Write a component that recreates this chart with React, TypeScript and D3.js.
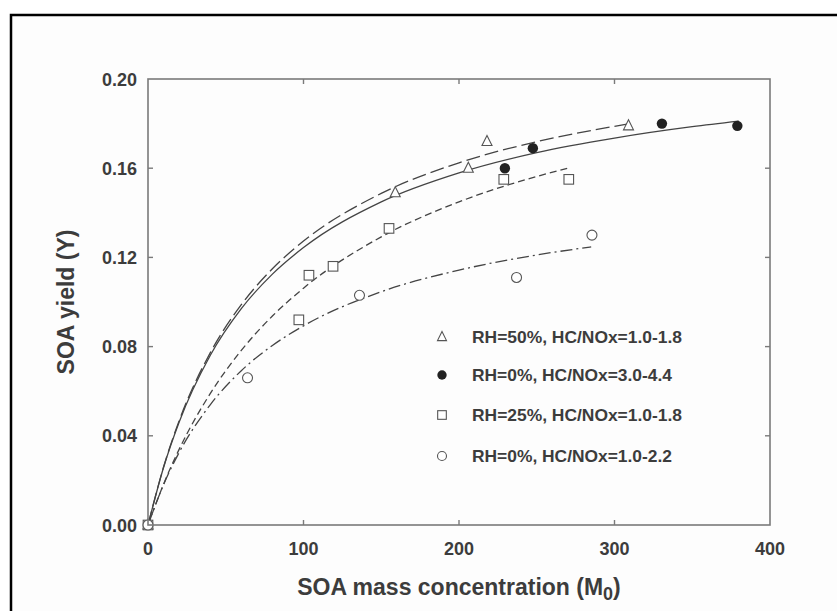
import * as d3 from "d3";
import React from "react";

// chart dimensions
const width = 837;
const height = 611;
const margin = { left: 148, right: 67, top: 79, bottom: 86 };

const xTicks = [0, 100, 200, 300, 400];
const yTicks = [0, 0.04, 0.08, 0.12, 0.16, 0.2];

// measured points
const triX = [0, 159, 206, 218, 309];
const triY = [0, 0.149, 0.16, 0.172, 0.179];
const dotX = [229.5, 247.5, 330.5, 379];
const dotY = [0.16, 0.169, 0.18, 0.179];
const sqX = [0, 97, 103.5, 119, 155, 228.8, 270.6];
const sqY = [0, 0.092, 0.112, 0.116, 0.133, 0.155, 0.155];
const cirX = [0, 64, 136, 237, 285.5];
const cirY = [0, 0.066, 0.103, 0.111, 0.13];

// fitted curves
const solidX = [0, 10, 20, 40, 60, 80, 100, 150, 200, 250, 300, 350, 380];
const solidY = [0, 0.0258, 0.0461, 0.076, 0.097, 0.1125, 0.1244, 0.1449, 0.1579, 0.167, 0.1735, 0.1786, 0.1811];
const longX = [0, 10, 20, 40, 60, 80, 100, 150, 200, 250, 300, 310];
const longY = [0, 0.026, 0.0467, 0.0772, 0.0988, 0.1149, 0.1273, 0.1487, 0.1624, 0.1719, 0.1788, 0.18];
const medX = [0, 10, 20, 40, 60, 80, 100, 150, 200, 250, 270];
const medY = [0, 0.0183, 0.0339, 0.0589, 0.0783, 0.0937, 0.1062, 0.1292, 0.1449, 0.1563, 0.16];
const ddX = [0, 10, 20, 40, 60, 80, 100, 150, 200, 250, 285];
const ddY = [0, 0.0181, 0.0325, 0.0539, 0.0692, 0.0805, 0.0893, 0.1046, 0.1143, 0.1211, 0.1247];

const legendLabels = [
  "RH=50%, HC/NOx=1.0-1.8",
  "RH=0%, HC/NOx=3.0-4.4",
  "RH=25%, HC/NOx=1.0-1.8",
  "RH=0%, HC/NOx=1.0-2.2",
];
const legendKinds = ["tri", "dot", "sq", "cir"];
const legendRows = [337, 375, 415, 456];

const font = "'Liberation Sans', Arial, sans-serif";
const axisColor = "#7a7a7a";
const ink = "#3c3c3c";

const x = d3.scaleLinear().domain([0, 400]).range([margin.left, width - margin.right]);
const y = d3.scaleLinear().domain([0, 0.2]).range([height - margin.bottom, margin.top]);

const line = d3
  .line<[number, number]>()
  .x((d) => x(d[0]))
  .y((d) => y(d[1]))
  .curve(d3.curveMonotoneX);

const zip = (a: number[], b: number[]) => a.map((v, i) => [v, b[i]] as [number, number]);

const Marker = ({ kind, cx, cy, s = 1 }: { kind: string; cx: number; cy: number; s?: number }) => {
  if (kind === "tri") {
    const w = 10 * s;
    const pts = `${cx},${cy - w * 0.6} ${cx - w / 2},${cy + w * 0.4} ${cx + w / 2},${cy + w * 0.4}`;
    return <polygon points={pts} fill="white" stroke="#555" strokeWidth={1.1} />;
  }
  if (kind === "dot") return <circle cx={cx} cy={cy} r={5.2 * s} fill="#222" />;
  if (kind === "sq") {
    const h = 4.8 * s;
    return <rect x={cx - h} y={cy - h} width={2 * h} height={2 * h} fill="white" stroke="#555" strokeWidth={1.1} />;
  }
  return <circle cx={cx} cy={cy} r={5 * s} fill="white" stroke="#555" strokeWidth={1.1} />;
};

const App = () => {
  const x0 = x(0), x1 = x(400), y0 = y(0), y1 = y(0.2);
  return (
    <svg width={width} height={height} style={{ position: "absolute", left: 0, top: 0, background: "white" }}>
      {/* outer frame */}
      <rect x={11} y={15} width={width} height={height} fill="#fdfdfd" stroke="#000" strokeWidth={2.5} />

      {/* curves */}
      <g fill="none" stroke="#444" strokeWidth={1.3}>
        <path d={line(zip(solidX, solidY)) ?? ""} />
        <path d={line(zip(longX, longY)) ?? ""} strokeDasharray="14 5" />
        <path d={line(zip(medX, medY)) ?? ""} strokeDasharray="7 4" />
        <path d={line(zip(ddX, ddY)) ?? ""} strokeDasharray="12 4 2 4" />
      </g>

      {/* points */}
      {triX.map((v, i) => <Marker key={"t" + i} kind="tri" cx={x(v)} cy={y(triY[i])} />)}
      {sqX.map((v, i) => <Marker key={"s" + i} kind="sq" cx={x(v)} cy={y(sqY[i])} />)}
      {cirX.map((v, i) => <Marker key={"c" + i} kind="cir" cx={x(v)} cy={y(cirY[i])} />)}
      {dotX.map((v, i) => <Marker key={"d" + i} kind="dot" cx={x(v)} cy={y(dotY[i])} />)}

      {/* plot box + inward ticks */}
      <rect x={x0} y={y1} width={x1 - x0} height={y0 - y1} fill="none" stroke={axisColor} strokeWidth={1.6} />
      <g stroke={axisColor} strokeWidth={1.4}>
        {xTicks.slice(1, -1).map((t) => (
          <g key={"xt" + t}>
            <line x1={x(t)} x2={x(t)} y1={y0} y2={y0 - 5} />
            <line x1={x(t)} x2={x(t)} y1={y1} y2={y1 + 5} />
          </g>
        ))}
        {yTicks.slice(1, -1).map((t) => (
          <g key={"yt" + t}>
            <line x1={x0} x2={x0 + 5} y1={y(t)} y2={y(t)} />
            <line x1={x1} x2={x1 - 5} y1={y(t)} y2={y(t)} />
          </g>
        ))}
      </g>

      {/* tick labels */}
      <g fontFamily={font} fontWeight="bold" fontSize={18} fill={ink}>
        {xTicks.map((t) => (
          <text key={"xl" + t} x={x(t)} y={y0 + 30} textAnchor="middle">{t}</text>
        ))}
        {yTicks.map((t) => (
          <text key={"yl" + t} x={x0 - 11} y={y(t) + 6.5} textAnchor="end">{t.toFixed(2)}</text>
        ))}
      </g>

      {/* axis titles */}
      <text x={(x0 + x1) / 2} y={595} textAnchor="middle" fontFamily={font} fontWeight="bold" fontSize={23} fill={ink}>
        SOA mass concentration (M<tspan dy={5} fontSize={18}>0</tspan><tspan dy={-5}>)</tspan>
      </text>
      <text transform={`translate(74,${(y0 + y1) / 2}) rotate(-90)`} textAnchor="middle" fontFamily={font} fontWeight="bold" fontSize={23} fill={ink}>
        SOA yield (Y)
      </text>

      {/* legend */}
      {legendLabels.map((l, i) => {
        const ly = legendRows[i];
        return (
          <g key={l}>
            <Marker kind={legendKinds[i]} cx={442} cy={ly} s={0.9} />
            <text x={472} y={ly + 6} fontFamily={font} fontWeight="bold" fontSize={16.5} fill={ink}
              textLength={i === 1 || i === 3 ? 200 : 210} lengthAdjust="spacingAndGlyphs">{l}</text>
          </g>
        );
      })}
    </svg>
  );
};

export default App;
